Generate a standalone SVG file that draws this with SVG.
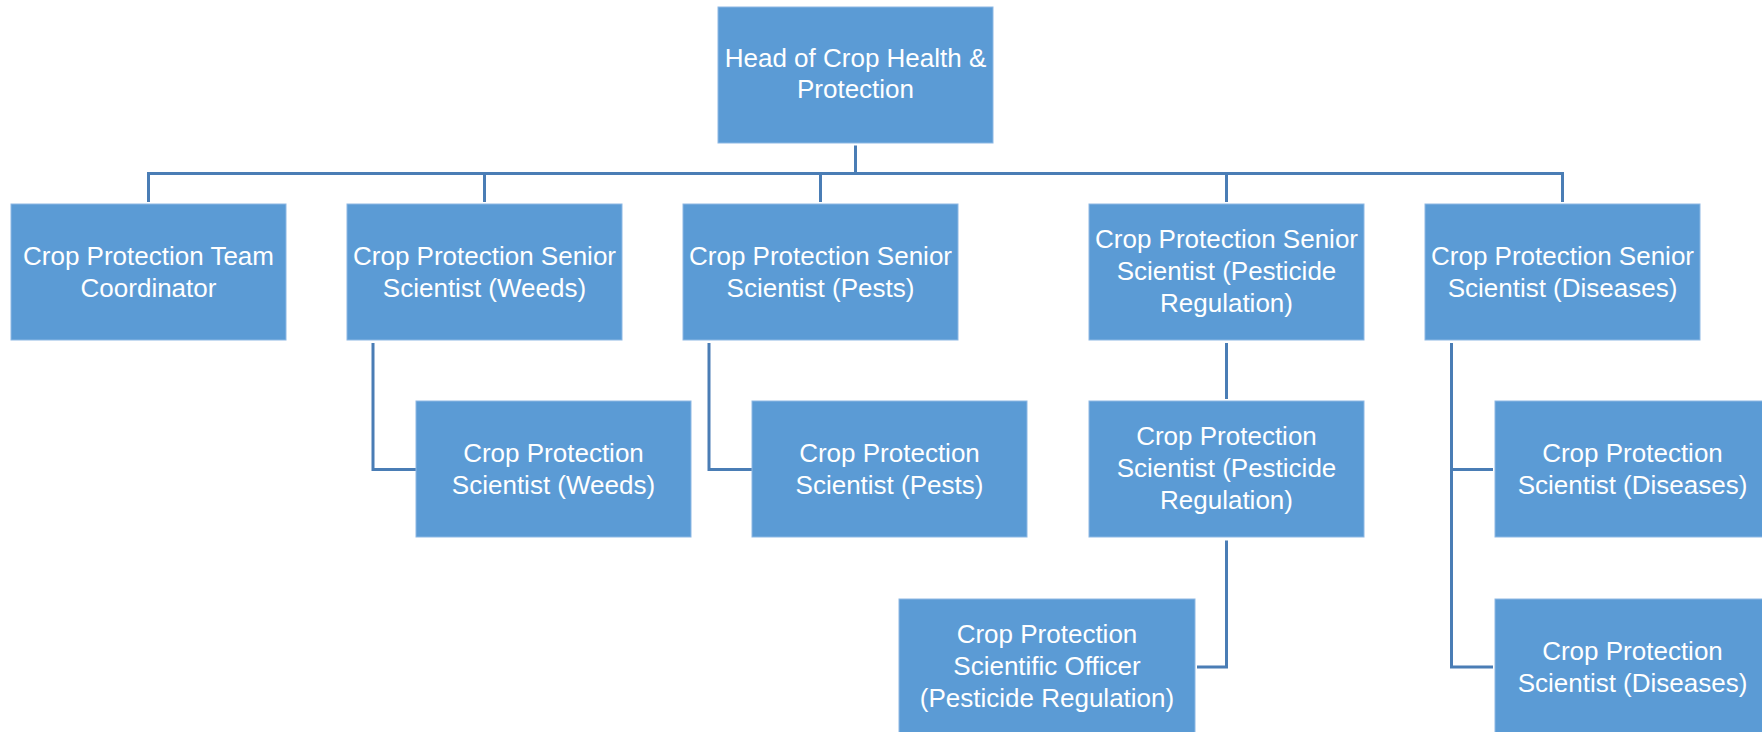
<svg xmlns="http://www.w3.org/2000/svg" width="1762" height="732" viewBox="0 0 1762 732">
<style>
.box{fill:#5B9BD5;stroke:#8DB8E4;stroke-width:1}
.t{font-family:"Liberation Sans",Arial,sans-serif;font-size:26px;fill:#ffffff;text-anchor:middle}
.c{fill:none;stroke:#4A7DB5;stroke-width:3}
</style>
<rect width="1762" height="732" fill="#ffffff"/>
<g id="connectors">
<path class="c" d="M855.5 145.5V173.5M148.5 202V173.5H1562.5V202M484.5 173.5V202M820.5 173.5V202M1226.5 173.5V202"/>
<path class="c" d="M373 343V469.5H416"/>
<path class="c" d="M709 343V469.5H752"/>
<path class="c" d="M1226.5 343V399"/>
<path class="c" d="M1226.5 540.5V667H1197"/>
<path class="c" d="M1451.5 343V667H1493M1451.5 469.5H1493"/>
</g>
<g id="head">
<rect class="box" x="718" y="7" width="275" height="136"/>
<text class="t" x="855.5" y="66.7">Head of Crop Health &amp;</text>
<text class="t" x="855.5" y="98.3">Protection</text>
</g>
<g id="coordinator">
<rect class="box" x="11" y="204" width="275" height="136"/>
<text class="t" x="148.5" y="265">Crop Protection Team</text>
<text class="t" x="148.5" y="296.7">Coordinator</text>
</g>
<g id="senior-weeds">
<rect class="box" x="347" y="204" width="275" height="136"/>
<text class="t" x="484.5" y="265">Crop Protection Senior</text>
<text class="t" x="484.5" y="296.7">Scientist (Weeds)</text>
</g>
<g id="senior-pests">
<rect class="box" x="683" y="204" width="275" height="136"/>
<text class="t" x="820.5" y="265">Crop Protection Senior</text>
<text class="t" x="820.5" y="296.7">Scientist (Pests)</text>
</g>
<g id="senior-pesticide">
<rect class="box" x="1089" y="204" width="275" height="136"/>
<text class="t" x="1226.5" y="248">Crop Protection Senior</text>
<text class="t" x="1226.5" y="280">Scientist (Pesticide</text>
<text class="t" x="1226.5" y="312">Regulation)</text>
</g>
<g id="senior-diseases">
<rect class="box" x="1425" y="204" width="275" height="136"/>
<text class="t" x="1562.5" y="265">Crop Protection Senior</text>
<text class="t" x="1562.5" y="296.7">Scientist (Diseases)</text>
</g>
<g id="scientist-weeds">
<rect class="box" x="416" y="401" width="275" height="136"/>
<text class="t" x="553.5" y="462">Crop Protection</text>
<text class="t" x="553.5" y="493.7">Scientist (Weeds)</text>
</g>
<g id="scientist-pests">
<rect class="box" x="752" y="401" width="275" height="136"/>
<text class="t" x="889.5" y="462">Crop Protection</text>
<text class="t" x="889.5" y="493.7">Scientist (Pests)</text>
</g>
<g id="scientist-pesticide">
<rect class="box" x="1089" y="401" width="275" height="136"/>
<text class="t" x="1226.5" y="445">Crop Protection</text>
<text class="t" x="1226.5" y="477">Scientist (Pesticide</text>
<text class="t" x="1226.5" y="509">Regulation)</text>
</g>
<g id="scientist-diseases-1">
<rect class="box" x="1495" y="401" width="275" height="136"/>
<text class="t" x="1632.5" y="462">Crop Protection</text>
<text class="t" x="1632.5" y="493.7">Scientist (Diseases)</text>
</g>
<g id="officer-pesticide">
<rect class="box" x="899" y="599" width="296" height="136"/>
<text class="t" x="1047" y="643.3">Crop Protection</text>
<text class="t" x="1047" y="675">Scientific Officer</text>
<text class="t" x="1047" y="706.7">(Pesticide Regulation)</text>
</g>
<g id="scientist-diseases-2">
<rect class="box" x="1495" y="599" width="275" height="136"/>
<text class="t" x="1632.5" y="660">Crop Protection</text>
<text class="t" x="1632.5" y="691.7">Scientist (Diseases)</text>
</g>
</svg>
